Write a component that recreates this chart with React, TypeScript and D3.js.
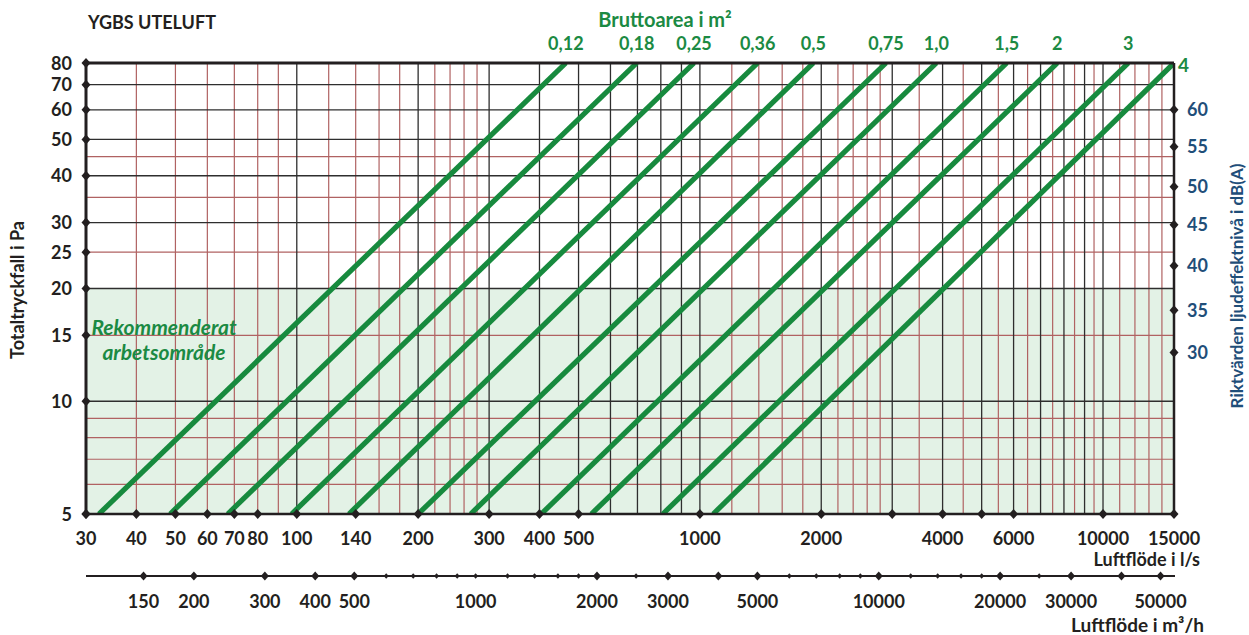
import React from "react";
import * as d3 from "d3";

// ---- data ----
const areaLabels = ["0,12", "0,18", "0,25", "0,36", "0,5", "0,75", "1,0", "1,5", "2", "3", "4"];
const flowAt5Pa = [32.3, 48.5, 67.4, 97.1, 134.7, 200, 270, 404, 538, 809, 1079];
const flowAt80Pa = [465, 697, 967, 1391, 1912, 2895, 3860, 5770, 7704, 11557, 15000];

const pressureTicks = [5, 10, 15, 20, 25, 30, 40, 50, 60, 70, 80];
const pressureMajorGrid = [10, 20, 30, 40, 50, 60, 70];
const pressureMinorGrid = [6, 7, 8, 9, 15, 25, 35, 45];

const flowDiamonds = [30, 40, 50, 60, 70, 80, 100, 140, 200, 300, 400, 500, 1000, 2000, 3000, 4000, 5000, 6000, 10000, 15000];
const flowLabels = [30, 40, 50, 60, 70, 80, 100, 140, 200, 300, 400, 500, 1000, 2000, 4000, 6000, 10000, 15000];
const flowMajorGrid = [100, 200, 300, 400, 500, 600, 700, 800, 900, 1000, 2000, 3000, 4000, 5000, 6000, 7000, 8000, 9000, 10000];
const flowMinorGrid = [40, 50, 60, 70, 80, 90, 120, 140, 160, 180, 220, 240, 260, 280, 1200, 1400, 1600, 1800, 2200, 2400, 2600, 2800, 3500, 4500, 5500, 6500, 7500, 8500, 9500, 11000, 12000, 13000, 14000];

const m3hBig = [150, 200, 300, 400, 500, 2000, 3000, 4000, 5000, 10000, 20000, 30000, 40000, 50000];
const m3hSmall = [600, 700, 800, 900, 1000, 1200, 1400, 1600, 1800, 2500, 6000, 7000, 8000, 9000, 12000, 14000, 16000, 18000, 25000];
const m3hLabels = [150, 200, 300, 400, 500, 1000, 2000, 3000, 5000, 10000, 20000, 30000, 50000];

const dbLabels = [30, 35, 40, 45, 50, 55, 60];
const dbAtPressure = [13.5, 17.5, 23.0, 29.6, 37.4, 47.8, 60];

const recommendedRange = [5, 20];

// ---- styles ----
const FONT = "Lato, 'Open Sans', sans-serif";
const GREEN = "#178a3e";
const GREEN_TEXT = "#1b8a43";
const BLUE = "#1f4e79";
const DARK = "#231f20";
const GRID_DARK = "#2e2e2e";
const GRID_RED = "#b06262";
const FILL = "#e3f2e6";

const diamond = (s: number) => `M0,${-s} L${s * 0.9},0 L0,${s} L${-s * 0.9},0 Z`;

export default function App() {
  const W = 1249, H = 635;
  const x = d3.scaleLog().domain([30, 15000]).range([86, 1174]);
  const y = d3.scaleLog().domain([5, 80]).range([514, 63]);
  const xm = d3.scaleLog().domain([30 * 3.6, 15000 * 3.6]).range([86, 1174]);
  const [x0, x1] = x.range();
  const [y0, y1] = y.range();
  const axis2Y = 576;

  const line = d3.line<[number, number]>().x(d => x(d[0])).y(d => y(d[1]));

  return (
    <svg width={W} height={H} style={{ position: "absolute", left: 0, top: 0, background: "#fff" }} fontFamily={FONT}>
      <defs>
        <clipPath id="plot">
          <rect x={x0} y={y1} width={x1 - x0} height={y0 - y1} />
        </clipPath>
      </defs>
      {/* recommended area */}
      <rect x={x0} y={y(recommendedRange[1])} width={x1 - x0} height={y(recommendedRange[0]) - y(recommendedRange[1])} fill={FILL} />

      {/* grid */}
      {flowMinorGrid.map(v => (
        <line key={"vm" + v} x1={x(v)} x2={x(v)} y1={y1} y2={y0} stroke={GRID_RED} strokeWidth={1.2} />
      ))}
      {pressureMinorGrid.map(v => (
        <line key={"hm" + v} x1={x0} x2={x1} y1={y(v)} y2={y(v)} stroke={GRID_RED} strokeWidth={1.2} />
      ))}
      {flowMajorGrid.map(v => (
        <line key={"vM" + v} x1={x(v)} x2={x(v)} y1={y1} y2={y0} stroke={GRID_DARK} strokeWidth={1.3} />
      ))}
      {pressureMajorGrid.map(v => (
        <line key={"hM" + v} x1={x0} x2={x1} y1={y(v)} y2={y(v)} stroke={GRID_DARK} strokeWidth={1.3} />
      ))}

      {/* area lines */}
      <g clipPath="url(#plot)">
        {areaLabels.map((a, i) => (
          <path key={"l" + a} d={line([[flowAt5Pa[i], 5], [flowAt80Pa[i], 80]]) || ""} stroke={GREEN} strokeWidth={5.2} fill="none" />
        ))}
      </g>

      {/* frame */}
      <line x1={x0} x2={x1} y1={y1} y2={y1} stroke={DARK} strokeWidth={3} />
      <line x1={x0} x2={x1} y1={y0} y2={y0} stroke={DARK} strokeWidth={2.5} />
      <line x1={x0} x2={x0} y1={y1} y2={y0} stroke={DARK} strokeWidth={3} />
      <line x1={x1} x2={x1} y1={y1} y2={y0} stroke={DARK} strokeWidth={2.5} />

      {/* left axis */}
      {pressureTicks.map(v => (
        <g key={"pt" + v}>
          <path d={diamond(5)} transform={`translate(${x0},${y(v)})`} fill={DARK} />
          <text x={72} y={y(v) + 6.5} textAnchor="end" fontSize={18} fontWeight="bold" fill={DARK}>{v}</text>
        </g>
      ))}
      <text transform={`translate(24,290) rotate(-90)`} textAnchor="middle" fontSize={18} fontWeight="bold" fill={DARK}>Totaltryckfall i Pa</text>

      {/* right axis dB */}
      {dbLabels.map((v, i) => (
        <g key={"db" + v}>
          <path d={diamond(5)} transform={`translate(${x1},${y(dbAtPressure[i])})`} fill={DARK} />
          <text x={1187} y={y(dbAtPressure[i]) + 6.5} fontSize={18} fontWeight="bold" fill={BLUE}>{v}</text>
        </g>
      ))}
      <text transform={`translate(1243,286) rotate(-90)`} textAnchor="middle" fontSize={17} fontWeight="bold" fill={BLUE}>Riktvärden ljudeffektnivå i dB(A)</text>

      {/* bottom axis l/s */}
      {flowDiamonds.map(v => (
        <path key={"fd" + v} d={diamond(5)} transform={`translate(${x(v)},${y0})`} fill={DARK} />
      ))}
      {flowLabels.map(v => (
        <text key={"fl" + v} x={x(v)} y={544.5} textAnchor="middle" fontSize={18} fontWeight="bold" fill={DARK}>{v}</text>
      ))}
      <text x={1200} y={566} textAnchor="end" fontSize={18} fontWeight="bold" fill={DARK}>Luftflöde i l/s</text>

      {/* secondary axis m3/h */}
      <line x1={x0} x2={x1 + 1} y1={axis2Y} y2={axis2Y} stroke={DARK} strokeWidth={2} />
      {m3hBig.map(v => (
        <path key={"mb" + v} d={diamond(4.5)} transform={`translate(${xm(v)},${axis2Y})`} fill={DARK} />
      ))}
      {m3hSmall.map(v => (
        <path key={"ms" + v} d={diamond(2.8)} transform={`translate(${xm(v)},${axis2Y})`} fill={DARK} />
      ))}
      {m3hLabels.map(v => (
        <text key={"ml" + v} x={xm(v)} y={607.5} textAnchor="middle" fontSize={18} fontWeight="bold" fill={DARK}>{v}</text>
      ))}
      <text x={1204} y={632} textAnchor="end" fontSize={19} fontWeight="bold" fill={DARK}>Luftflöde i m³/h</text>

      {/* top labels */}
      <text x={88} y={29} fontSize={18} fontWeight="bold" fill={DARK}>YGBS UTELUFT</text>
      <text x={665} y={27} textAnchor="middle" fontSize={20} fontWeight="bold" fill={GREEN_TEXT}>Bruttoarea i m²</text>
      {areaLabels.map((a, i) =>
        i < areaLabels.length - 1 ? (
          <text key={"al" + a} x={x(flowAt80Pa[i])} y={49.5} textAnchor="middle" fontSize={18} fontWeight="bold" fill={GREEN_TEXT}>{a}</text>
        ) : (
          <text key={"al" + a} x={x(flowAt80Pa[i]) + 4} y={72} fontSize={19} fontWeight="bold" fill={GREEN_TEXT}>{a}</text>
        )
      )}

      {/* recommended text */}
      <text x={164} y={335} textAnchor="middle" fontSize={21} fontWeight="bold" fontStyle="italic" fill={GREEN_TEXT}>Rekommenderat</text>
      <text x={164} y={360} textAnchor="middle" fontSize={21} fontWeight="bold" fontStyle="italic" fill={GREEN_TEXT}>arbetsområde</text>
    </svg>
  );
}
